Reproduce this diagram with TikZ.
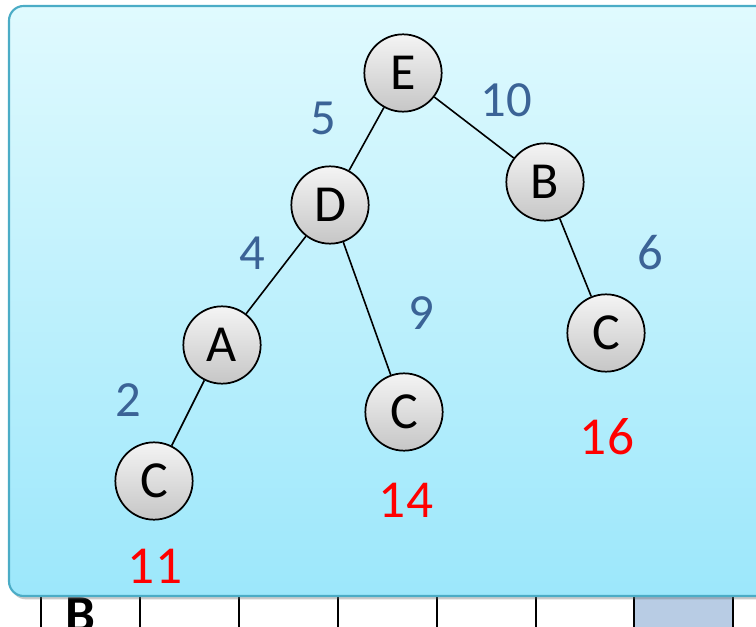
\documentclass[tikz,border=0pt]{standalone}
\usepackage{fontspec}
\setmainfont{Carlito}
\setsansfont{Carlito}
\usetikzlibrary{shadows}
\definecolor{panelTop}{HTML}{E0FAFE}
\definecolor{panelBot}{HTML}{9CE7FB}
\definecolor{panelEdge}{HTML}{4BACC6}
\definecolor{nodeTop}{HTML}{F4F4F4}
\definecolor{nodeBot}{HTML}{C6C6C6}
\definecolor{weight}{HTML}{3B6396}
\definecolor{total}{HTML}{FF0000}
\definecolor{cellFill}{HTML}{B8CCE4}
\begin{document}
\begin{tikzpicture}[x=0.75pt,y=-0.75pt,
  vertex/.style={circle,draw=black,line width=1.3pt,minimum size=58pt,inner sep=0pt,
    top color=nodeTop,bottom color=nodeBot,font=\fontsize{39}{39}\selectfont},
  edge/.style={line width=1.2pt,black},
  wlabel/.style={text=weight,font=\fontsize{38}{38}\selectfont},
  tlabel/.style={text=total,font=\fontsize{40}{40}\selectfont},
  gridline/.style={line width=1.4pt,black}]
\useasboundingbox (0,0) rectangle (756,627);
% table strip below the panel
\fill[cellFill] (634,590) rectangle (733,640);
\foreach \gx in {41,140,239,338,437,536,634,733}
  \draw[gridline] (\gx,590) -- (\gx,640);
\node[anchor=north,inner sep=0pt,font=\sffamily\bfseries\fontsize{40}{40}\selectfont] (rowlabel) at (80,598) {B};
% panel
\draw[panelEdge,line width=1.6pt,rounded corners=11pt,top color=panelTop,bottom color=panelBot,
  drop shadow={shadow xshift=1.5pt,shadow yshift=-2.5pt,opacity=0.35,fill=black!60}]
  (9,6) rectangle (790,596);
% tree nodes
\node[vertex] (E) at (403,73) {E};
\node[vertex] (D) at (330,205) {D};
\node[vertex] (B) at (545,182) {B};
\node[vertex] (A) at (222,345) {A};
\node[vertex] (C1) at (154,481) {C};
\node[vertex] (C2) at (404,412) {C};
\node[vertex] (C3) at (606,333) {C};
% edges
\draw[edge] (E) -- (D);
\draw[edge] (E) -- (B);
\draw[edge] (D) -- (A);
\draw[edge] (D) -- (C2);
\draw[edge] (A) -- (C1);
\draw[edge] (B) -- (C3);
% edge weights
\node[wlabel] (w5) at (323,118) {5};
\node[wlabel] (w10) at (506,100) {10};
\node[wlabel] (w4) at (252,253) {4};
\node[wlabel] (w9) at (421,313) {9};
\node[wlabel] (w6) at (650,253) {6};
\node[wlabel] (w2) at (128,400) {2};
% path totals
\node[tlabel] (t11) at (155,566) {11};
\node[tlabel] (t14) at (406,500) {14};
\node[tlabel] (t16) at (607,437) {16};
\end{tikzpicture}
\end{document}
